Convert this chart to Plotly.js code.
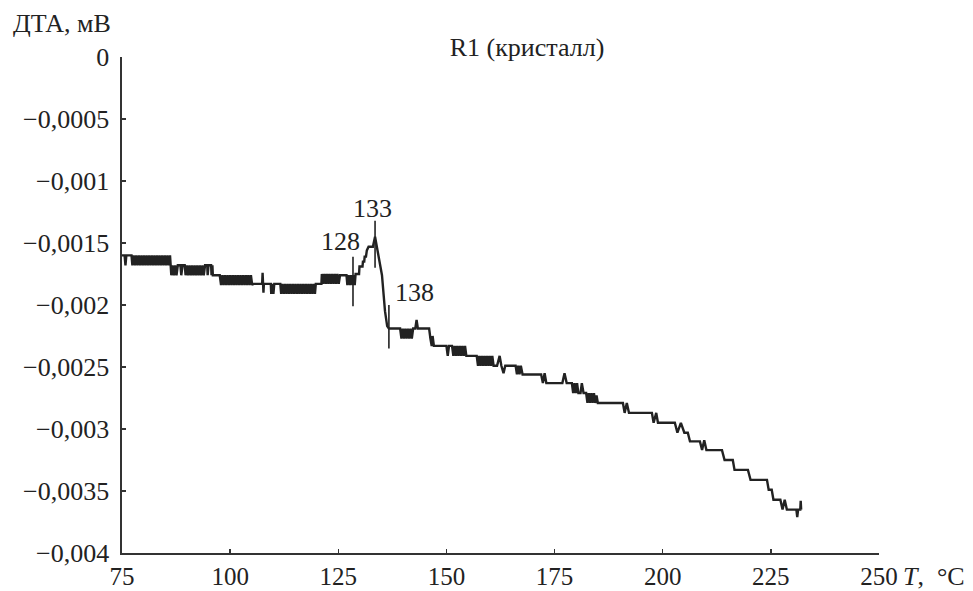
<!DOCTYPE html>
<html>
<head>
<meta charset="utf-8">
<script src="https://cdn.plot.ly/plotly-3.0.1.min.js"></script>
<style>html,body{margin:0;padding:0;background:#fff;}#chart{width:973px;height:591px;}</style>
</head>
<body>
<div id="chart"></div>
<script>
// Temperature, °C
const tempC = [
75.0,75.6,75.8,76.0,77.2,77.4,77.7,78.0,78.3,78.6,78.9,79.2,79.5,79.8,80.1,80.4,80.7,81.0,81.3,81.6,81.9,82.2,82.5,82.8,83.1,83.4,83.7,84.0,84.3,84.6,84.9,85.2,85.5,85.8,86.1,
86.4,86.7,87.0,87.3,87.6,87.9,88.5,88.7,89.0,89.5,89.7,90.0,90.3,90.6,90.9,91.2,91.5,91.8,92.1,92.4,92.7,93.0,93.3,93.6,93.9,94.2,94.7,94.8,95.0,95.6,95.7,95.9,96.0,97.6,
97.9,98.2,98.5,98.8,99.1,99.4,99.7,100.0,100.3,100.6,100.9,101.2,101.5,101.8,102.1,102.4,102.7,103.0,103.3,103.6,103.9,104.2,104.5,104.8,105.1,105.3,
107.4,107.5,107.7,107.8,109.4,109.5,109.7,110.0,110.2,111.6,111.8,112.1,112.4,112.7,113.0,113.3,113.6,113.9,114.2,114.5,114.8,115.1,115.4,115.7,116.0,116.3,116.6,116.9,117.2,117.5,117.8,118.1,118.4,118.7,119.0,119.3,119.6,119.8,
121.1,121.2,121.5,121.8,122.1,122.4,122.7,123.0,123.3,123.6,123.9,124.2,124.5,124.8,125.1,125.4,126.9,127.1,127.4,127.7,128.0,128.3,128.6,128.8,
129.0,129.8,129.9,130.6,130.7,131.0,131.1,131.4,131.6,132.0,133.0,133.5,133.9,135.1,135.8,136.3,136.7,
139.3,139.6,139.9,140.2,140.5,140.8,141.1,141.4,141.7,142.0,142.3,142.8,143.1,143.4,146.0,146.3,146.6,146.8,147.1,
150.0,150.3,150.6,151.3,151.6,151.9,152.2,152.5,152.8,153.1,153.4,153.7,154.0,154.3,154.6,
157.0,157.3,157.6,157.9,158.2,158.5,158.8,159.1,159.4,159.7,160.0,160.3,160.6,160.9,161.7,162.3,162.7,163.2,163.6,
166.0,166.3,166.6,166.9,167.2,167.6,171.9,172.3,172.7,173.1,176.8,177.3,177.8,
179.0,179.3,179.6,179.9,180.2,180.5,181.0,181.3,181.7,182.3,182.6,182.9,183.2,183.5,183.8,184.1,184.4,184.7,185.0,
190.8,191.2,191.7,192.2,197.5,197.9,198.5,198.9,202.8,203.4,204.2,205.0,205.8,206.3,
208.6,209.1,209.6,210.1,213.7,214.3,216.2,216.6,219.7,220.3,224.1,224.5,225.2,225.6,
227.2,227.7,228.2,228.7,230.9,231.1,231.3,231.8,231.9,232.0
];
// DTA signal, mV
const dtaMV = [
-0.00160,-0.00160,-0.00168,-0.00160,-0.00160,-0.00168,-0.00160,-0.00168,-0.00160,-0.00168,-0.00160,-0.00168,-0.00160,-0.00168,-0.00160,-0.00168,-0.00160,-0.00168,-0.00160,-0.00168,-0.00160,-0.00168,-0.00160,-0.00168,-0.00160,-0.00168,-0.00160,-0.00168,-0.00160,-0.00168,-0.00160,-0.00168,-0.00160,-0.00168,-0.00160,
-0.00176,-0.00168,-0.00176,-0.00168,-0.00176,-0.00168,-0.00168,-0.00176,-0.00168,-0.00168,-0.00176,-0.00168,-0.00176,-0.00168,-0.00176,-0.00168,-0.00176,-0.00168,-0.00176,-0.00168,-0.00176,-0.00168,-0.00176,-0.00168,-0.00176,-0.00168,-0.00168,-0.00176,-0.00168,-0.00168,-0.00176,-0.00168,-0.00176,-0.00176,
-0.00184,-0.00176,-0.00184,-0.00176,-0.00184,-0.00176,-0.00184,-0.00176,-0.00184,-0.00176,-0.00184,-0.00176,-0.00184,-0.00176,-0.00184,-0.00176,-0.00184,-0.00176,-0.00184,-0.00176,-0.00184,-0.00176,-0.00184,-0.00176,-0.00184,-0.00183,
-0.00183,-0.00174,-0.00190,-0.00183,-0.00183,-0.00191,-0.00183,-0.00191,-0.00183,-0.00183,-0.00191,-0.00183,-0.00191,-0.00183,-0.00191,-0.00183,-0.00191,-0.00183,-0.00191,-0.00183,-0.00191,-0.00183,-0.00191,-0.00183,-0.00191,-0.00183,-0.00191,-0.00183,-0.00191,-0.00183,-0.00191,-0.00183,-0.00191,-0.00183,-0.00191,-0.00183,-0.00191,-0.00183,
-0.00183,-0.00175,-0.00183,-0.00175,-0.00183,-0.00175,-0.00183,-0.00175,-0.00183,-0.00175,-0.00183,-0.00175,-0.00183,-0.00175,-0.00183,-0.00176,-0.00176,-0.00184,-0.00176,-0.00184,-0.00176,-0.00184,-0.00176,-0.00184,
-0.00175,-0.00175,-0.00169,-0.00169,-0.00165,-0.00165,-0.00161,-0.00161,-0.00156,-0.00153,-0.00153,-0.00145,-0.00152,-0.00176,-0.00205,-0.00217,-0.00219,
-0.00219,-0.00227,-0.00219,-0.00227,-0.00219,-0.00227,-0.00219,-0.00227,-0.00219,-0.00227,-0.00219,-0.00219,-0.00212,-0.00219,-0.00219,-0.00227,-0.00233,-0.00225,-0.00233,
-0.00233,-0.00241,-0.00233,-0.00233,-0.00241,-0.00233,-0.00241,-0.00233,-0.00241,-0.00233,-0.00241,-0.00233,-0.00241,-0.00233,-0.00241,
-0.00241,-0.00249,-0.00241,-0.00249,-0.00241,-0.00249,-0.00241,-0.00249,-0.00241,-0.00249,-0.00241,-0.00249,-0.00241,-0.00249,-0.00249,-0.00241,-0.00249,-0.00255,-0.00249,
-0.00249,-0.00256,-0.00249,-0.00256,-0.00249,-0.00256,-0.00256,-0.00263,-0.00255,-0.00263,-0.00263,-0.00255,-0.00263,
-0.00263,-0.00271,-0.00263,-0.00271,-0.00263,-0.00271,-0.00271,-0.00263,-0.00271,-0.00271,-0.00279,-0.00271,-0.00279,-0.00271,-0.00279,-0.00271,-0.00279,-0.00273,-0.00279,
-0.00279,-0.00287,-0.00279,-0.00287,-0.00287,-0.00295,-0.00287,-0.00295,-0.00295,-0.00303,-0.00295,-0.00303,-0.00303,-0.00310,
-0.00310,-0.00317,-0.00309,-0.00317,-0.00317,-0.00325,-0.00325,-0.00333,-0.00333,-0.00341,-0.00341,-0.00349,-0.00349,-0.00357,
-0.00357,-0.00365,-0.00357,-0.00365,-0.00365,-0.00371,-0.00365,-0.00365,-0.00358,-0.00365
];

// Marked transition temperatures (vertical marker lines + labels)
const markerT      = [128.4, 133.5, 136.7];
const markerTop    = [-0.00161, -0.00132, -0.00200];
const markerBottom = [-0.00201, -0.00170, -0.00235];
const markerLabel  = ['128', '133', '138'];
const labelT       = [125.4, 133.0, 142.6];
const labelDTA     = [-0.00149, -0.00122, -0.00190];

const xTicks = [75, 100, 125, 150, 175, 200, 225, 250];
const xTickText = ['75', '100', '125', '150', '175', '200', '225', '250'];
const yTicks = [0, -0.0005, -0.001, -0.0015, -0.002, -0.0025, -0.003, -0.0035, -0.004];
const yTickText = ['0', '\u22120,0005', '\u22120,001', '\u22120,0015', '\u22120,002', '\u22120,0025', '\u22120,003', '\u22120,0035', '\u22120,004'];

const markX = [], markY = [];
for (let i = 0; i < markerT.length; i++) {
  markX.push(markerT[i], markerT[i], null);
  markY.push(markerTop[i], markerBottom[i], null);
}

const FONT = "Liberation Serif";
const INK = '#222';
const FS = 26;

const traces = [
  {x: tempC, y: dtaMV, type: 'scatter', mode: 'lines',
   line: {color: INK, width: 2.4}, hoverinfo: 'skip'},
  {x: markX, y: markY, type: 'scatter', mode: 'lines',
   line: {color: INK, width: 1.6}, hoverinfo: 'skip', connectgaps: false}
];

const annotations = markerLabel.map((t, i) => ({
  x: labelT[i], y: labelDTA[i], xref: 'x', yref: 'y', text: t, showarrow: false,
  font: {family: FONT, size: FS, color: INK}, xanchor: 'center', yanchor: 'middle'
}));
annotations.push({
  xref: 'paper', yref: 'paper', x: 1.029, y: -0.048, text: '<i>T</i>,\u00a0\u00a0°C',
  showarrow: false, xanchor: 'left', yanchor: 'middle',
  font: {family: FONT, size: FS, color: INK}
});
annotations.push({
  xref: 'paper', yref: 'paper', x: -0.147, y: 1.068, text: 'ДТА, мВ',
  showarrow: false, xanchor: 'left', yanchor: 'middle',
  font: {family: FONT, size: FS, color: INK}
});

const layout = {
  width: 973, height: 591,
  margin: {l: 122, r: 94, t: 57, b: 38},
  paper_bgcolor: '#fff', plot_bgcolor: '#fff',
  showlegend: false,
  title: {text: 'R1 (кристалл)', x: 0.5417, y: 0.9205, xref: 'container', yref: 'container',
          xanchor: 'center', yanchor: 'middle',
          font: {family: FONT, size: FS, color: INK}},
  font: {family: FONT, size: FS, color: INK},
  xaxis: {range: [75, 250], showgrid: false, zeroline: false, showline: true,
          linecolor: '#333', linewidth: 1.6, ticks: 'inside', ticklen: 4, tickwidth: 1.3,
          tickcolor: '#333', tickmode: 'array', tickvals: xTicks, ticktext: xTickText,
          tickfont: {family: FONT, size: 25, color: INK}, ticklabelstandoff: 0},
  yaxis: {range: [-0.004, 0], showgrid: false, zeroline: false, showline: true,
          linecolor: '#333', linewidth: 1.6, ticks: 'inside', ticklen: 4, tickwidth: 1.3,
          tickcolor: '#333', tickmode: 'array', tickvals: yTicks, ticktext: yTickText,
          tickfont: {family: FONT, size: FS, color: INK}, ticklabelstandoff: 6},
  annotations: annotations
};

Plotly.newPlot('chart', traces, layout, {staticPlot: true, displayModeBar: false});
</script>
</body>
</html>
